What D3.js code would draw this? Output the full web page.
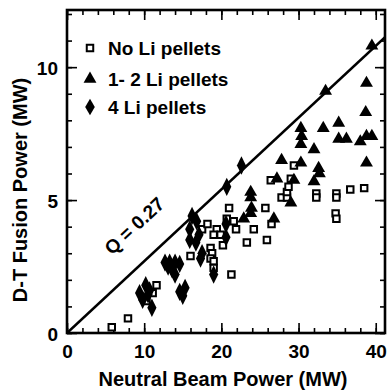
<!DOCTYPE html>
<html>
<head>
<meta charset="utf-8">
<script src="https://cdn.jsdelivr.net/npm/d3@7"></script>
<style>
  body { margin: 0; background: #fff; }
  text { font-family: "Liberation Sans", Arial, sans-serif; font-weight: bold; fill: #000; }
</style>
</head>
<body>
<div id="chart"></div>
<script>
// data: [neutral beam power (MW), D-T fusion power (MW)]
const noLi = [
  [5.8, 0.22], [7.9, 0.55], [10.3, 1.2], [11.1, 1.5], [11.6, 1.8],
  [18.6, 3.2], [18.8, 3.0], [18.6, 2.8], [19.0, 2.7], [19.0, 2.45],
  [19.4, 3.9], [19.0, 3.7], [19.9, 3.7], [20.7, 4.3], [21.6, 4.2],
  [21.9, 3.9], [21.0, 4.7], [21.3, 2.2], [23.3, 3.4], [24.2, 3.9],
  [25.9, 3.5], [26.5, 4.1], [25.7, 4.7], [27.8, 5.1], [28.5, 5.1],
  [28.5, 5.3], [28.7, 5.5], [29.0, 5.8], [26.4, 5.75], [29.4, 6.3],
  [32.3, 5.25], [32.3, 5.1], [34.9, 5.25], [34.9, 5.1], [36.7, 5.4],
  [38.5, 5.45], [34.8, 4.5], [34.9, 4.3], [17.5, 3.9], [16.0, 2.9],
  [18.2, 4.1], [20.2, 3.3]
];
const oneTwoLi = [
  [39.5, 10.8], [33.5, 9.1], [38.8, 9.4], [38.7, 8.3], [35.2, 7.9],
  [33.2, 7.7], [30.3, 7.7], [30.4, 7.4], [35.2, 7.3], [36.2, 7.3],
  [38.0, 7.2], [38.8, 7.4], [39.5, 7.4], [30.3, 7.1], [32.0, 6.9],
  [27.8, 6.5], [30.3, 6.4], [32.6, 6.2], [32.7, 6.0], [38.8, 6.4],
  [27.2, 5.8], [29.4, 5.75], [32.0, 5.7], [23.8, 5.3], [23.8, 5.1],
  [23.9, 4.7], [23.8, 4.5], [29.0, 4.9], [22.9, 4.3], [26.8, 4.3]
];
const fourLi = [
  [22.6, 6.3], [20.7, 5.5], [10.2, 1.8], [10.7, 1.6], [9.8, 1.25],
  [11.0, 0.95], [10.5, 1.45], [9.4, 1.5], [12.7, 2.65], [13.3, 2.65],
  [14.0, 2.65], [13.6, 2.4], [13.1, 2.5], [14.0, 2.2], [14.6, 2.6],
  [14.6, 1.55], [15.3, 1.7], [15.0, 1.4], [15.9, 3.9], [15.9, 3.5],
  [16.8, 4.2], [17.1, 3.7], [16.7, 3.4], [17.3, 2.8], [19.0, 2.2],
  [20.6, 4.1], [20.6, 3.6], [16.2, 4.4], [17.5, 3.0]
];
const xTicks = [0, 10, 20, 30, 40];
const yTicks = [0, 5, 10];
const legendLabels = ["No Li pellets", "1- 2 Li pellets", "4 Li pellets"];
const qValue = 0.27;

const margin = {top: 10, right: 3, bottom: 57, left: 67};
const width = 388 - margin.left - margin.right;
const height = 390 - margin.top - margin.bottom;

const svg = d3.select("#chart")
  .append("svg")
    .attr("width", 388)
    .attr("height", 390)
  .append("g")
    .attr("transform", `translate(${margin.left}, ${margin.top})`);

const x = d3.scaleLinear().domain([0, 41.2]).range([0, width]);
const y = d3.scaleLinear().domain([0, 12.15]).range([height, 0]);

// clip for the marks and the Q line
svg.append("clipPath").attr("id", "clip")
  .append("rect").attr("width", width).attr("height", height);

const xMinor = d3.range(0, 42, 2);
const yMinor = d3.range(0, 13, 1);

function styleAxis(g) {
  g.select(".domain").remove();
  g.selectAll("line").attr("stroke", "#000").attr("stroke-width", 1.6);
  g.selectAll("text").style("font-size", "19px");
}

// inward ticks on all four sides
svg.append("g").attr("transform", `translate(0, ${height})`)
  .call(d3.axisBottom(x).tickValues(xMinor).tickSize(-5).tickFormat(""))
  .call(styleAxis);
svg.append("g").attr("transform", `translate(0, ${height})`)
  .call(d3.axisBottom(x).tickValues(xTicks).tickSize(-10).tickPadding(16))
  .call(styleAxis)
  .selectAll("text").attr("dy", "0.45em");
svg.append("g")
  .call(d3.axisTop(x).tickValues(xMinor).tickSize(-5).tickFormat(""))
  .call(styleAxis);
svg.append("g")
  .call(d3.axisTop(x).tickValues(xTicks).tickSize(-10).tickFormat(""))
  .call(styleAxis);
svg.append("g")
  .call(d3.axisLeft(y).tickValues(yMinor).tickSize(-5).tickFormat(""))
  .call(styleAxis);
svg.append("g")
  .call(d3.axisLeft(y).tickValues(yTicks).tickSize(-10).tickPadding(9))
  .call(styleAxis)
  .selectAll("text").attr("dy", "0.4em");
svg.append("g").attr("transform", `translate(${width}, 0)`)
  .call(d3.axisRight(y).tickValues(yMinor).tickSize(-5).tickFormat(""))
  .call(styleAxis);
svg.append("g").attr("transform", `translate(${width}, 0)`)
  .call(d3.axisRight(y).tickValues(yTicks).tickSize(-10).tickFormat(""))
  .call(styleAxis);

// frame
svg.append("rect")
  .attr("width", width)
  .attr("height", height)
  .attr("fill", "none")
  .attr("stroke", "#000")
  .attr("stroke-width", 2.6);

// Q line
svg.append("line")
  .attr("clip-path", "url(#clip)")
  .attr("x1", x(0)).attr("y1", y(0))
  .attr("x2", x(50)).attr("y2", y(50 * qValue))
  .attr("stroke", "#000")
  .attr("stroke-width", 2.6);

const angle = -Math.atan2(y(0) - y(20 * qValue), x(20) - x(0)) * 180 / Math.PI;
svg.append("text")
  .attr("transform", `translate(${x(9.3)}, ${y(3.85)}) rotate(${angle})`)
  .attr("text-anchor", "middle")
  .style("font-size", "19px")
  .text(`Q = ${qValue}`);

// markers
const sq = d3.symbol().type(d3.symbolSquare).size(42);
const tri = d3.symbol().type(d3.symbolTriangle).size(72);
const dia = d3.symbol().type(d3.symbolDiamond).size(80);

const marks = svg.append("g").attr("clip-path", "url(#clip)");
marks.selectAll(".sq")
  .data(noLi)
  .enter()
  .append("path")
    .attr("transform", d => `translate(${x(d[0])}, ${y(d[1])})`)
    .attr("d", sq)
    .attr("fill", "#fff")
    .attr("stroke", "#000")
    .attr("stroke-width", 2);
marks.selectAll(".tri")
  .data(oneTwoLi)
  .enter()
  .append("path")
    .attr("transform", d => `translate(${x(d[0])}, ${y(d[1])})`)
    .attr("d", tri)
    .attr("fill", "#000");
marks.selectAll(".dia")
  .data(fourLi)
  .enter()
  .append("path")
    .attr("transform", d => `translate(${x(d[0])}, ${y(d[1])}) scale(0.95, 1.1)`)
    .attr("d", dia)
    .attr("fill", "#000");

// legend
const legendY = [38, 69, 97];
const legendSym = [sq, tri, dia];
legendLabels.forEach((lab, i) => {
  svg.append("path")
    .attr("transform", `translate(23, ${legendY[i]})`)
    .attr("d", legendSym[i])
    .attr("fill", i == 0 ? "#fff" : "#000")
    .attr("stroke", i == 0 ? "#000" : "none")
    .attr("stroke-width", 2);
  svg.append("text")
    .attr("x", 41)
    .attr("y", legendY[i] + 7)
    .style("font-size", "19px")
    .text(lab);
});

// axis titles
svg.append("text")
  .attr("x", 156)
  .attr("y", 376)
  .attr("text-anchor", "middle")
  .style("font-size", "20px")
  .text("Neutral Beam Power (MW)");
svg.append("text")
  .attr("transform", `translate(-40, 180) rotate(-90)`)
  .attr("text-anchor", "middle")
  .style("font-size", "20px")
  .text("D-T Fusion Power (MW)");
</script>
</body>
</html>
